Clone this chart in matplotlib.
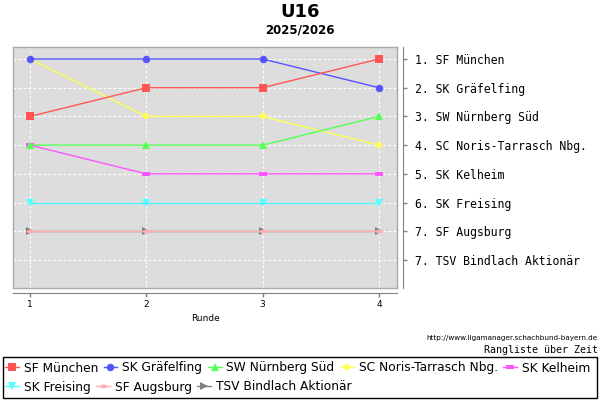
import matplotlib
matplotlib.use('Agg')
import matplotlib.pyplot as plt
from matplotlib.path import Path
from matplotlib.transforms import Affine2D
from matplotlib.lines import Line2D
import matplotlib.patches as mpatches

rounds = [1, 2, 3, 4]
teams = ['SF München', 'SK Gräfelfing', 'SW Nürnberg Süd', 'SC Noris-Tarrasch Nbg.',
         'SK Kelheim', 'SK Freising', 'SF Augsburg', 'TSV Bindlach Aktionär']
sf_muenchen = [3, 2, 2, 1]
sk_graefelfing = [1, 1, 1, 2]
sw_nuernberg = [4, 4, 4, 3]
sc_noris = [1, 3, 3, 4]
sk_kelheim = [4, 5, 5, 5]
sk_freising = [6, 6, 6, 6]
sf_augsburg = [7, 7, 7, 7]
tsv_bindlach = [7, 7, 7, 7]
series = [sf_muenchen, sk_graefelfing, sw_nuernberg, sc_noris,
          sk_kelheim, sk_freising, sf_augsburg, tsv_bindlach]
rank_positions = [1, 2, 3, 4, 5, 6, 7, 8]
rank_labels = ['1. SF München', '2. SK Gräfelfing', '3. SW Nürnberg Süd',
               '4. SC Noris-Tarrasch Nbg.', '5. SK Kelheim', '6. SK Freising',
               '7. SF Augsburg', '7. TSV Bindlach Aktionär']

colors = ['#FF5555', '#5555FF', '#55FF55', '#FFFF55', '#FF55FF', '#55FFFF',
          '#FFAFAF', '#808080']
hrect = Path([(-1, -0.45), (1, -0.45), (1, 0.45), (-1, 0.45), (-1, -0.45)])
hell = Path.unit_circle().transformed(Affine2D().scale(1, 0.5))
markers = ['s', 'o', '^', 'D', hrect, 'v', hell, '>']
msizes = [5.2, 5.4, 5.6, 3.8, 5.2, 5.6, 5.4, 5.2]

fig = plt.figure(figsize=(6, 4), dpi=100)
ax = fig.add_axes([13/600, 1-288/400, 384/600, 241/400])
ax.set_facecolor('#DDDDDD')
for s in ax.spines.values():
    s.set_color('#AAAAAA')
    s.set_linewidth(1)

n = len(series)
for i, (vals, c, m, ms) in enumerate(zip(series, colors, markers, msizes)):
    ax.plot(rounds, vals, color=c, marker=m, markersize=ms, linewidth=1,
            markeredgewidth=0, zorder=10 + (n - i))

ax.set_xlim(0.854, 4.155)
ax.set_ylim(8.975, 0.582)
ax.set_xticks(rounds)
ax.set_yticks(rank_positions)
ax.tick_params(left=False, bottom=False, labelleft=False, labelbottom=False)
ax.grid(True, color='white', linestyle=(0, (2.5, 2)), linewidth=0.8)
ax.set_axisbelow(True)

sec_y = ax.secondary_yaxis(1.0156)
sec_y.set_yticks(rank_positions)
sec_y.set_yticklabels(rank_labels, fontfamily='DejaVu Sans Mono', fontsize=8.3)
sec_y.tick_params(direction='out', length=3, width=1, color='#808080', pad=5.5)
sec_y.spines['right'].set_color('#808080')

sec_x = ax.secondary_xaxis(-0.0207)
sec_x.set_xticks(rounds)
sec_x.set_xticklabels([str(r) for r in rounds], fontsize=6.5)
sec_x.tick_params(direction='out', length=3, width=1, color='#808080', pad=2)
sec_x.spines['bottom'].set_color('#808080')
sec_x.set_xlabel('Runde', fontsize=6.5, labelpad=4)

fig.text(0.5, 1-12/400, 'U16', ha='center', va='center', fontsize=13, fontweight='bold')
fig.text(0.5, 1-30/400, '2025/2026', ha='center', va='center', fontsize=8.5, fontweight='bold')
fig.text(598/600, 1-338/400, 'http://www.ligamanager.schachbund-bayern.de', ha='right',
         va='center', fontsize=5.2)
fig.text(598/600, 1-350/400, 'Rangliste über Zeit', ha='right', va='center',
         fontsize=7.2, fontfamily='DejaVu Sans Mono')

fig.patches.append(mpatches.Rectangle((3/600, 1-398/400), 594/600, 41/400,
                                      transform=fig.transFigure, fill=False,
                                      edgecolor='black', linewidth=1))

def leg_handle(i):
    return Line2D([], [], color=colors[i], marker=markers[i], markersize=msizes[i],
                  markeredgewidth=0, linewidth=1)

fig.legend([leg_handle(i) for i in range(5)], teams[:5], loc='center left',
           bbox_to_anchor=(5/600, 1-368/400), ncol=5, frameon=False, fontsize=8.8,
           handlelength=1.13, handletextpad=0.4, columnspacing=0.45, borderpad=0,
           borderaxespad=0)
fig.legend([leg_handle(i) for i in range(5, 8)], teams[5:], loc='center left',
           bbox_to_anchor=(5/600, 1-387/400), ncol=3, frameon=False, fontsize=8.8,
           handlelength=1.13, handletextpad=0.4, columnspacing=0.45, borderpad=0,
           borderaxespad=0)

fig.savefig('out.png', dpi=100)
